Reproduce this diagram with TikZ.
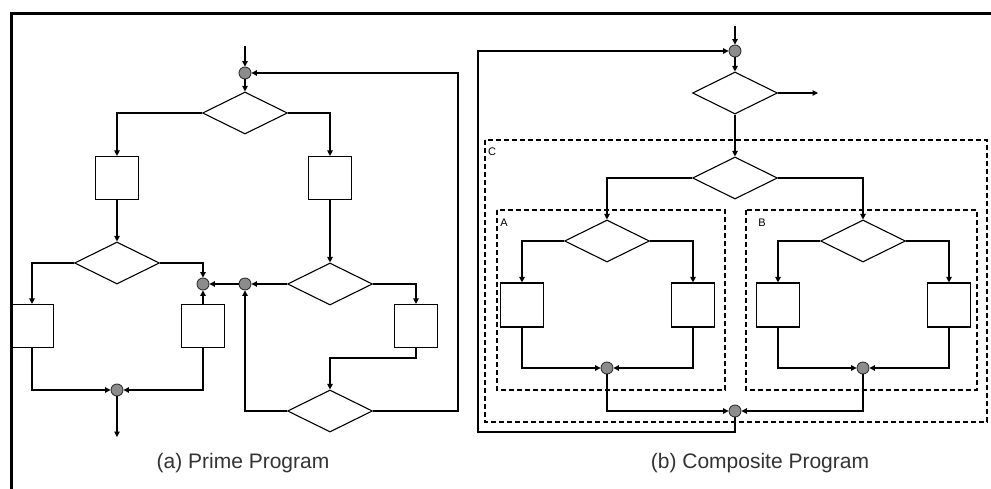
\documentclass[tikz,border=0pt]{standalone}
\usepackage{fontspec}
\setmainfont{Liberation Sans}
\usetikzlibrary{shapes.geometric,arrows.meta}
\begin{document}
\begin{tikzpicture}[x=1pt,y=-1pt,
  line width=1.1pt,
  arr/.style={-{Triangle[length=5.5pt,width=5.5pt]}},
  dec/.style={draw,shape=diamond,minimum width=85pt,minimum height=42pt,inner sep=0pt},
  blk/.style={draw,rectangle,minimum width=43pt,minimum height=43pt,inner sep=0pt},
  joint/.style={draw=black!80,fill=black!45,circle,minimum size=12pt,inner sep=0pt,line width=0.9pt},
  grp/.style={draw,dash pattern=on 5pt off 3pt,line width=1.3pt},
  glab/.style={font=\fontsize{11}{13}\selectfont,inner sep=0pt},
  captext/.style={font=\fontsize{21}{25}\selectfont,text=black!80}]
\useasboundingbox (0,0) rectangle (991,489);
\fill[white] (0,0) rectangle (991,489);
% frame
\draw[line width=3pt] (11,492) -- (11,14) -- (995,14);

% ---------- (a) Prime Program ----------
\coordinate (inA) at (245,46);
\node[joint] (cT) at (245,73) {};
\node[dec] (dT) at (245,113) {};
\node[blk] (bL) at (117,178) {};
\node[blk] (bR) at (330,178) {};
\node[dec] (dL) at (117,263) {};
\node[dec] (dM) at (330,284) {};
\node[joint] (c1) at (203,284) {};
\node[joint] (c2) at (245,284) {};
\node[blk] (bLL) at (32,326) {};
\node[blk] (bLR) at (203,326) {};
\node[blk] (bRR) at (416,326) {};
\node[dec] (dB) at (330,411) {};
\node[joint] (cB) at (117,390) {};
\coordinate (outA) at (117,437);
\coordinate (loopA) at (458,73);

\draw[arr] (inA) -- (cT.north);
\draw[arr] (cT.south) -- (dT.north);
\draw[arr] (dT.west) -| (bL.north);
\draw[arr] (dT.east) -| (bR.north);
\draw[arr] (bL.south) -- (dL.north);
\draw[arr] (bR.south) -- (dM.north);
\draw[arr] (dL.west) -| (bLL.north);
\draw[arr] (dL.east) -| (c1.north);
\draw[arr] (bLR.north) -- (c1.south);
\draw[arr] (c2.west) -- (c1.east);
\draw[arr] (dM.west) -- (c2.east);
\draw[arr] (dB.west) -| (c2.south);
\draw[arr] (dM.east) -| (bRR.north);
\draw[arr] (bRR.south) -- (bRR.south |- 0,358) -| (dB.north);
\draw[arr] (dB.east) -| (loopA) -- (cT.east);
\draw[arr] (bLL.south) |- (cB.west);
\draw[arr] (bLR.south) |- (cB.east);
\draw[arr] (cB.south) -- (outA);
\node[captext] (capA) at (243,463) {(a) Prime Program};

% ---------- (b) Composite Program ----------
\draw[grp] (485,140) rectangle (987,422);
\draw[grp] (497,210) rectangle (725,390);
\draw[grp] (746,210) rectangle (977,390);
\node[glab] (labC) at (492,152) {C};
\node[glab] (labA) at (504,223) {A};
\node[glab] (labB) at (762,223) {B};

\coordinate (inB) at (735,26);
\node[joint] (cT2) at (735,51) {};
\node[dec] (dT2) at (735,93) {};
\coordinate (outB) at (818,93);
\node[dec] (dC) at (735,178) {};
\node[dec] (dA) at (607,241) {};
\node[dec] (dBB) at (863,241) {};
\node[blk,minimum height=44pt] (A1) at (522,305) {};
\node[blk,minimum height=44pt] (A2) at (693,305) {};
\node[blk,minimum height=44pt] (B1) at (778,305) {};
\node[blk,minimum height=44pt] (B2) at (949,305) {};
\node[joint] (cA) at (607,368) {};
\node[joint] (cBc) at (863,368) {};
\node[joint] (cC) at (735,411) {};
\coordinate (loopB1) at (478,432);
\coordinate (loopB2) at (478,51);

\draw[arr] (inB) -- (cT2.north);
\draw[arr] (cT2.south) -- (dT2.north);
\draw[arr] (dT2.east) -- (outB);
\draw[arr] (dT2.south) -- (dC.north);
\draw[arr] (dC.west) -| (dA.north);
\draw[arr] (dC.east) -| (dBB.north);
\draw[arr] (dA.west) -| (A1.north);
\draw[arr] (dA.east) -| (A2.north);
\draw[arr] (dBB.west) -| (B1.north);
\draw[arr] (dBB.east) -| (B2.north);
\draw[arr] (A1.south) |- (cA.west);
\draw[arr] (A2.south) |- (cA.east);
\draw[arr] (B1.south) |- (cBc.west);
\draw[arr] (B2.south) |- (cBc.east);
\draw[arr] (cA.south) |- (cC.west);
\draw[arr] (cBc.south) |- (cC.east);
\draw[arr] (cC.south) |- (loopB1) -- (loopB2) -- (cT2.west);
\node[captext] (capB) at (760,463) {(b) Composite Program};
\end{tikzpicture}
\end{document}
